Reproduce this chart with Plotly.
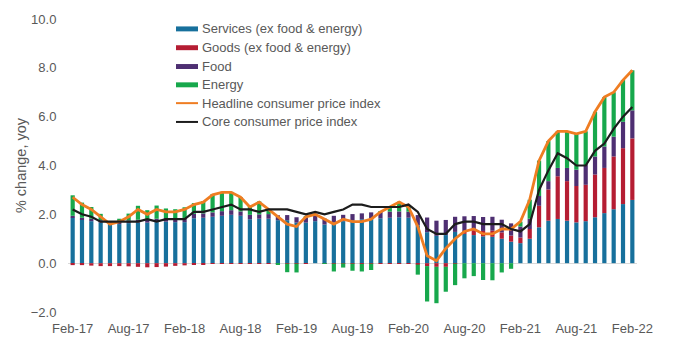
import pandas as pd
import plotly.graph_objects as go

# Monthly, Feb-2017 .. Feb-2022
months = pd.date_range("2017-02-01", "2022-02-01", freq="MS").strftime("%b-%y").tolist()

# Contributions to year-on-year CPI inflation (percentage points)
services = [1.86, 1.78, 1.72, 1.66, 1.60, 1.60, 1.64, 1.66, 1.66, 1.68, 1.70,
            1.68, 1.68, 1.84, 1.86, 1.90, 1.94, 1.98, 1.94, 1.80, 1.82, 1.82, 1.76,
            1.76, 1.66, 1.66, 1.72, 1.58, 1.68, 1.72, 1.76, 1.80, 1.82, 1.84, 1.86,
            1.88, 1.86, 1.55, 1.27, 1.12, 1.15, 1.28, 1.20, 1.15, 1.10, 1.08, 1.00,
            0.88, 0.82, 1.00, 1.47, 1.74, 1.81, 1.74, 1.67, 1.72, 1.88, 2.05, 2.21,
            2.42, 2.59]
goods = [-0.08, -0.08, -0.10, -0.12, -0.12, -0.12, -0.13, -0.15, -0.17, -0.16, -0.14,
         -0.11, -0.09, -0.06, -0.04, -0.03, -0.02, -0.02, -0.01, -0.02, -0.03, -0.02, -0.03,
         -0.02, -0.02, -0.01, 0.00, -0.02, -0.02, -0.01, -0.02, -0.03, -0.02, -0.02, -0.02,
         -0.02, -0.01, -0.06, -0.12, -0.15, -0.15, -0.02, 0.12, 0.20, 0.22, 0.25, 0.26,
         0.25, 0.23, 0.40, 0.88, 1.28, 1.75, 1.62, 1.49, 1.49, 1.75, 1.85, 2.16,
         2.29, 2.52]
food = [0.08, 0.08, 0.10, 0.10, 0.10, 0.10, 0.11, 0.12, 0.12, 0.14, 0.15,
        0.15, 0.17, 0.18, 0.18, 0.18, 0.19, 0.19, 0.18, 0.18, 0.18, 0.19, 0.20,
        0.21, 0.22, 0.23, 0.25, 0.25, 0.26, 0.26, 0.25, 0.24, 0.26, 0.26, 0.25,
        0.24, 0.25, 0.42, 0.60, 0.62, 0.62, 0.62, 0.60, 0.58, 0.57, 0.57, 0.52,
        0.50, 0.45, 0.42, 0.40, 0.34, 0.34, 0.54, 0.67, 0.81, 0.74, 0.88, 0.81,
        1.08, 1.15]
energy = [0.84, 0.62, 0.48, 0.26, 0.02, 0.12, 0.28, 0.57, 0.39, 0.54, 0.39,
          0.38, 0.44, 0.44, 0.50, 0.75, 0.79, 0.75, 0.59, 0.34, 0.53, 0.21, -0.03,
          -0.35, -0.36, 0.02, 0.03, -0.01, -0.32, -0.17, -0.29, -0.31, -0.26, 0.02, 0.21,
          0.40, 0.20, -0.41, -1.45, -1.49, -1.02, -0.88, -0.62, -0.53, -0.69, -0.70, -0.38,
          -0.23, 0.20, 0.78, 1.45, 1.64, 1.50, 1.50, 1.47, 1.38, 1.83, 2.02, 1.82,
          1.71, 1.64]

# Year-on-year inflation (%)
headline = [2.7, 2.4, 2.2, 1.9, 1.6, 1.7, 1.9, 2.2, 2.0, 2.2, 2.1,
            2.1, 2.2, 2.4, 2.5, 2.8, 2.9, 2.9, 2.7, 2.3, 2.5, 2.2, 1.9,
            1.6, 1.5, 1.9, 2.0, 1.8, 1.6, 1.8, 1.7, 1.7, 1.8, 2.1, 2.3,
            2.5, 2.3, 1.5, 0.3, 0.1, 0.6, 1.0, 1.3, 1.4, 1.2, 1.2, 1.4,
            1.4, 1.7, 2.6, 4.2, 5.0, 5.4, 5.4, 5.3, 5.4, 6.2, 6.8, 7.0,
            7.5, 7.9]
core = [2.2, 2.0, 1.9, 1.7, 1.7, 1.7, 1.7, 1.7, 1.8, 1.7, 1.8,
        1.8, 1.8, 2.1, 2.1, 2.2, 2.3, 2.4, 2.2, 2.2, 2.1, 2.2, 2.2,
        2.2, 2.1, 2.0, 2.1, 2.0, 2.1, 2.2, 2.4, 2.4, 2.3, 2.3, 2.3,
        2.3, 2.4, 2.1, 1.4, 1.2, 1.2, 1.6, 1.7, 1.7, 1.6, 1.6, 1.6,
        1.4, 1.3, 1.6, 3.0, 3.8, 4.5, 4.3, 4.0, 4.0, 4.6, 4.9, 5.5,
        6.0, 6.4]

tick_labels = months[::6]
y_ticks = [-2, 0, 2, 4, 6, 8, 10]

bar_series = [
    ("Services (ex food & energy)", services, "#17709c"),
    ("Goods (ex food & energy)", goods, "#b51d33"),
    ("Food", food, "#4e2f72"),
    ("Energy", energy, "#17a84c"),
]
line_series = [
    ("Headline consumer price index", headline, "#ef7d22", 2.8),
    ("Core consumer price index", core, "#1c1c1c", 2.2),
]

TEXT = "#595959"
FONT = "Liberation Sans, Arial, sans-serif"

fig = go.Figure()
for name, vals, col in bar_series:
    fig.add_trace(go.Bar(x=months, y=vals, name=name, marker_color=col,
                         marker_line_width=0, width=0.45, showlegend=False))
for name, vals, col, w in line_series:
    fig.add_trace(go.Scatter(x=months, y=vals, name=name, mode="lines",
                             line=dict(color=col, width=w), showlegend=False))

# Page geometry (pixels) for the hand-placed legend
W_PX, H_PX = 680, 349
L, R, T, B = 68, 43, 16, 37
PW, PH = W_PX - L - R, H_PX - T - B


def fx(px):
    return (px - L) / PW


def fy(py):
    return (H_PX - B - py) / PH


shapes = []
annotations = []
legend_rows = [(n, c, "bar") for n, _, c in bar_series] + [(n, c, "line") for n, _, c, _ in line_series]
row_y = [26, 45, 64, 82.5, 101, 120]
for (name, col, kind), yc in zip(legend_rows, row_y):
    if kind == "bar":
        shapes.append(dict(type="rect", xref="paper", yref="paper",
                           x0=fx(176), x1=fx(198), y0=fy(yc + 2.5), y1=fy(yc - 2.5),
                           fillcolor=col, line_width=0))
    else:
        shapes.append(dict(type="line", xref="paper", yref="paper",
                           x0=fx(176), x1=fx(198), y0=fy(yc), y1=fy(yc),
                           line=dict(color=col, width=2)))
    annotations.append(dict(text=name, xref="paper", yref="paper", x=fx(200), y=fy(yc),
                            xanchor="left", yanchor="middle", showarrow=False,
                            font=dict(size=13, color=TEXT, family=FONT)))

fig.update_layout(
    width=W_PX, height=H_PX,
    margin=dict(l=L, r=R, t=T, b=B),
    barmode="relative",
    bargap=0.5,
    plot_bgcolor="white", paper_bgcolor="white",
    font=dict(family=FONT, size=13, color=TEXT),
    showlegend=False,
    shapes=shapes,
    annotations=annotations,
    xaxis=dict(type="category", range=[-0.5, len(months) - 0.5],
               tickvals=tick_labels, ticktext=tick_labels,
               ticks="outside", ticklen=4, tickcolor="rgba(0,0,0,0)",
               showgrid=False, showline=False, zeroline=False,
               tickfont=dict(size=13, color=TEXT)),
    yaxis=dict(range=[-2, 10], tickvals=y_ticks, tickformat=".1f",
               ticks="outside", ticklen=8, tickcolor="rgba(0,0,0,0)",
               showgrid=False, showline=False,
               zeroline=True, zerolinecolor="#d9d9d9", zerolinewidth=1,
               tickfont=dict(size=13, color=TEXT),
               title=dict(text="% change, yoy", standoff=0,
                          font=dict(size=14.5, color=TEXT))),
)

fig.write_html("out.html")
